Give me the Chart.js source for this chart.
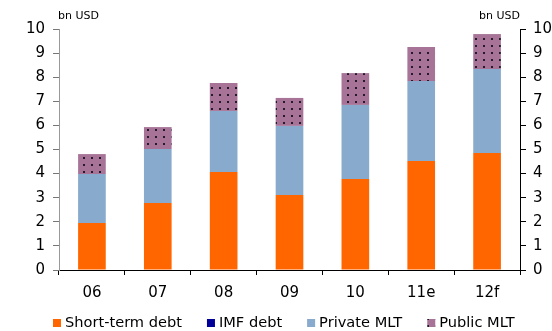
<!DOCTYPE html>
<html>
<head>
<meta charset="utf-8">
<script src="https://cdn.jsdelivr.net/npm/chart.js@4"></script>
<style>
  html, body { margin: 0; padding: 0; background: #fff; }
  #wrap { width: 552px; height: 331px; position: relative; }
</style>
</head>
<body>
<div id="wrap"><canvas id="chart"></canvas></div>
<script>
// ---- Data ----
const categories = ['06', '07', '08', '09', '10', '11e', '12f'];
const shortTerm = [1.95, 2.78, 4.07, 3.11, 3.78, 4.52, 4.85];
const imfDebt = [0, 0, 0, 0, 0, 0, 0];
const privateMLT = [2.03, 2.24, 2.53, 2.87, 3.07, 3.32, 3.49];
const publicMLT = [0.83, 0.91, 1.16, 1.16, 1.32, 1.41, 1.45];
const yTicks = [0, 1, 2, 3, 4, 5, 6, 7, 8, 9, 10];
const unitLabel = 'bn USD';

// dotted purple fill for Public MLT
function dotPattern() {
    const c = document.createElement('canvas');
    c.width = 8;
    c.height = 7;
    const g = c.getContext('2d');
    g.fillStyle = '#a77497';
    g.fillRect(0, 0, 8, 7);
    g.fillStyle = '#241a2c';
    g.fillRect(3, 3, 2, 2);
    return g.createPattern(c, 'repeat');
}

const font = 'DejaVu Sans';

// unit labels above both axes
const unitTitles = {
    id: 'unitTitles',
    afterDraw(chart) {
        const { ctx, chartArea } = chart;
        ctx.save();
        ctx.font = `11px "${font}"`;
        ctx.fillStyle = '#000';
        ctx.textBaseline = 'middle';
        ctx.textAlign = 'left';
        ctx.fillText(unitLabel, chartArea.left - 1, 16);
        ctx.textAlign = 'right';
        ctx.fillText(unitLabel, chartArea.right, 16);
        ctx.restore();
    }
};

// legend row along the bottom
const bottomLegend = {
    id: 'bottomLegend',
    afterDraw(chart) {
        const { ctx } = chart;
        ctx.save();
        ctx.font = `14.6px "${font}"`;
        ctx.textBaseline = 'middle';
        ctx.textAlign = 'left';
        let x = 53;
        const y = 323;
        chart.data.datasets.forEach(ds => {
            ctx.fillStyle = ds.backgroundColor;
            ctx.fillRect(x, y - 4, 8, 8);
            ctx.fillStyle = '#000';
            ctx.fillText(ds.label, x + 12, y);
            x += 12 + ctx.measureText(ds.label).width + 25;
        });
        ctx.restore();
    }
};

const yGrid = { drawOnChartArea: false, tickLength: 6 };
const yTickFont = { family: font, size: 15 };

new Chart(document.getElementById('chart'), {
    type: 'bar',
    data: {
        labels: categories,
        datasets: [
            { label: 'Short-term debt', data: shortTerm, backgroundColor: '#ff6600' },
            { label: 'IMF debt', data: imfDebt, backgroundColor: '#000099' },
            { label: 'Private MLT', data: privateMLT, backgroundColor: '#88aacc' },
            { label: 'Public MLT', data: publicMLT, backgroundColor: dotPattern() }
        ]
    },
    options: {
        responsive: true,
        maintainAspectRatio: false,
        animation: false,
        devicePixelRatio: 1,
        layout: { padding: { top: 29, left: 0, right: 0, bottom: 28 } },
        datasets: { bar: { barPercentage: 0.42, categoryPercentage: 1, borderWidth: 0 } },
        plugins: {
            tooltip: { enabled: false },
            legend: { display: false }
        },
        scales: {
            x: {
                stacked: true,
                grid: { offset: true, drawOnChartArea: false, tickLength: 5, color: '#000' },
                border: { color: '#000' },
                ticks: { font: { family: font, size: 15 }, color: '#000', padding: 9 },
                afterFit: axis => { axis.height = 33; }
            },
            y: {
                stacked: true, min: 0, max: 10, position: 'left',
                afterBuildTicks: axis => { axis.ticks = yTicks.map(v => ({ value: v })); },
                grid: { ...yGrid, color: '#777' },
                border: { color: '#999' },
                ticks: { font: yTickFont, color: '#000', padding: 8 },
                afterFit: axis => { axis.width = 59; }
            },
            y2: {
                stacked: true, min: 0, max: 10, position: 'right',
                afterBuildTicks: axis => { axis.ticks = yTicks.map(v => ({ value: v })); },
                grid: { ...yGrid, color: '#000' },
                border: { color: '#000' },
                ticks: { font: yTickFont, color: '#000', padding: 7 },
                afterFit: axis => { axis.width = 32; }
            }
        }
    },
    plugins: [unitTitles, bottomLegend]
});
</script>
</body>
</html>
